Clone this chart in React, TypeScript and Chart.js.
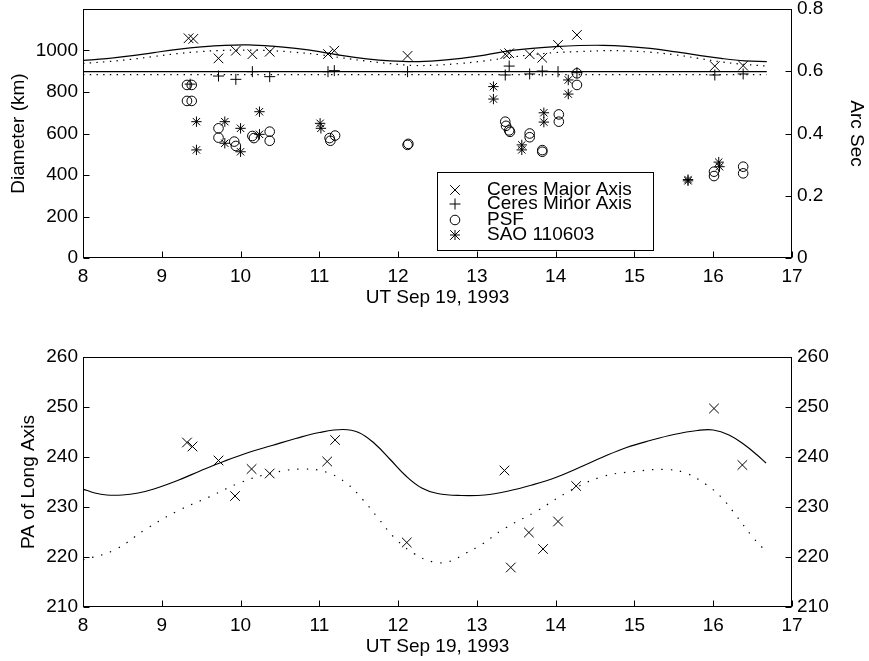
import React, { useEffect, useRef } from 'react';
import { Chart, registerables } from 'chart.js';

Chart.register(...registerables);

// ---------- tick labels ----------
const X_TICKS = [8, 9, 10, 11, 12, 13, 14, 15, 16, 17];
const KM_TICKS = [0, 200, 400, 600, 800, 1000];
const ARCSEC_TICKS = [0, 0.2, 0.4, 0.6, 0.8];
const PA_TICKS = [210, 220, 230, 240, 250, 260];

// ---------- top panel: diameters (km) ----------
const MAJOR_T = [9.34, 9.40, 9.72, 9.94, 10.15, 10.37, 11.11, 11.19, 12.12, 13.36, 13.41, 13.67, 13.83, 14.03, 14.27, 16.02, 16.38];
const MAJOR_KM = [1059, 1056, 962, 999, 982, 994, 983, 999, 974, 982, 987, 982, 965, 1027, 1075, 925, 927];

const MINOR_T = [9.36, 9.72, 9.94, 10.15, 10.37, 11.11, 11.19, 12.12, 13.36, 13.41, 13.67, 13.83, 14.03, 14.27, 16.02, 16.38];
const MINOR_KM = [838, 877, 861, 898, 874, 898, 903, 898, 882, 925, 887, 901, 898, 893, 882, 887];

const PSF_T = [9.32, 9.38, 9.32, 9.38, 9.72, 9.72, 9.92, 9.94, 10.15, 10.17, 10.37, 10.37, 11.13, 11.20, 11.14, 12.12, 12.13, 13.36, 13.37, 13.41, 13.42, 13.67, 13.67, 13.83, 13.83, 14.04, 14.04, 14.27, 14.27, 16.01, 16.01, 16.38, 16.38];
const PSF_KM = [834, 834, 757, 757, 625, 580, 561, 540, 588, 578, 609, 565, 578, 590, 565, 545, 550, 657, 637, 615, 608, 600, 582, 520, 512, 692, 657, 890, 834, 416, 395, 440, 408];

const SAO_T = [9.44, 9.44, 9.80, 9.80, 10.00, 10.00, 10.24, 10.24, 11.01, 11.02, 13.21, 13.21, 13.57, 13.57, 13.85, 13.85, 14.16, 14.16, 15.68, 15.68, 16.07, 16.08];
const SAO_KM = [657, 521, 657, 553, 625, 512, 705, 596, 649, 625, 826, 766, 545, 521, 700, 655, 858, 790, 378, 372, 462, 440];

const MODEL_T = [8.0, 8.3, 8.6, 8.9, 9.2, 9.5, 9.8, 10.1, 10.4, 10.7, 11.0, 11.3, 11.6, 11.9, 12.2, 12.5, 12.8, 13.1, 13.4, 13.7, 14.0, 14.3, 14.6, 14.9, 15.2, 15.5, 15.8, 16.1, 16.4, 16.68];
const MODEL_MAJOR_KM = [952, 961, 974, 990, 1005, 1017, 1025, 1027, 1021, 1010, 995, 975, 960, 950, 946, 951, 962, 978, 998, 1010, 1019, 1024, 1025, 1020, 1010, 995, 978, 962, 950, 946];
const MODEL_MAJOR2_KM = [938, 946, 957, 971, 985, 995, 1001, 1002, 999, 991, 980, 964, 949, 937, 928, 930, 938, 950, 966, 980, 990, 995, 999, 998, 992, 980, 963, 945, 933, 925];

const MODEL_MINOR_T = [8.0, 16.68];
const MODEL_MINOR_KM = [898, 898];
const MODEL_MINOR2_KM = [884, 884];

// ---------- bottom panel: position angle ----------
const PA_T = [9.32, 9.39, 9.72, 9.93, 10.14, 10.37, 11.10, 11.20, 12.11, 13.35, 13.43, 13.66, 13.84, 14.03, 14.26, 16.01, 16.37];
const PA_DEG = [242.9, 242.1, 239.3, 232.2, 237.6, 236.7, 239.1, 243.4, 222.9, 237.3, 217.9, 224.9, 221.6, 227.1, 234.2, 249.7, 238.4];

const PA_MODEL_T = [8.0, 8.15, 8.3, 8.5, 8.7, 8.9, 9.2, 9.5, 9.8, 10.1, 10.4, 10.7, 11.0, 11.3, 11.5, 11.7, 11.9, 12.1, 12.3, 12.5, 12.8, 13.1, 13.4, 13.7, 14.0, 14.3, 14.6, 14.9, 15.2, 15.5, 15.8, 16.0, 16.2, 16.4, 16.55, 16.67];
const PA_MODEL_DEG = [233.6, 232.8, 232.4, 232.4, 232.8, 233.6, 235.3, 237.3, 239.2, 240.9, 242.3, 243.7, 244.9, 245.5, 244.9, 242.7, 239.5, 236.2, 233.8, 232.7, 232.3, 232.4, 233.2, 234.4, 235.9, 237.9, 240.0, 241.9, 243.3, 244.5, 245.3, 245.4, 244.4, 242.4, 240.5, 238.8];

const PA_MODEL2_T = [8.0, 8.4, 8.8, 9.2, 9.6, 10.0, 10.4, 10.8, 11.1, 11.35, 11.55, 11.75, 11.95, 12.2, 12.45, 12.65, 12.85, 13.05, 13.35, 13.75, 14.2, 14.6, 15.0, 15.4, 15.65, 15.9, 16.1, 16.3, 16.5, 16.67];
const PA_MODEL2_DEG = [219.4, 221.4, 225.6, 229.2, 232.0, 234.9, 236.8, 237.6, 236.9, 234.7, 231.5, 227.7, 223.9, 220.7, 219.0, 219.1, 220.7, 222.4, 225.7, 229.1, 233.4, 236.1, 237.1, 237.5, 236.8, 234.6, 232.0, 228.1, 224.0, 221.1];

// ---------- legend ----------
const LEGEND_LABELS = ['Ceres Major Axis', 'Ceres Minor Axis', 'PSF', 'SAO 110603'];
const LEGEND_SYMBOLS = ['crossRot', 'cross', 'circle', 'star'];

const FONT_FAMILY = '"Liberation Sans", Arial, Helvetica, sans-serif';
const FONT = { family: FONT_FAMILY, size: 19 };
const BLACK = '#000';

const zip = (xs: number[], ys: number[]) => xs.map((x, i) => ({ x, y: ys[i] }));
const fmt = (v: number) => String(Math.round(v * 1000) / 1000);

function drawSymbol(ctx: CanvasRenderingContext2D, style: string, x: number, y: number) {
  ctx.beginPath();
  if (style === 'crossRot' || style === 'star') {
    const d = 4.8;
    ctx.moveTo(x - d, y - d); ctx.lineTo(x + d, y + d);
    ctx.moveTo(x - d, y + d); ctx.lineTo(x + d, y - d);
  }
  if (style === 'cross' || style === 'star') {
    const d = style === 'star' ? 5 : 5.5;
    ctx.moveTo(x - d, y); ctx.lineTo(x + d, y);
    ctx.moveTo(x, y - d); ctx.lineTo(x, y + d);
  }
  if (style === 'circle') {
    ctx.arc(x, y, 4.8, 0, Math.PI * 2);
  }
  ctx.stroke();
}

const framePlugin = {
  id: 'frameTicks',
  afterDraw(chart: any) {
    const { ctx, chartArea } = chart;
    const left = Math.round(chartArea.left) + 0.5;
    const right = Math.round(chartArea.right) - 0.5;
    const top = Math.round(chartArea.top) + 0.5;
    const bottom = Math.round(chartArea.bottom) - 0.5;
    ctx.save();
    ctx.strokeStyle = BLACK;
    ctx.lineWidth = 1;
    ctx.strokeRect(left, top, right - left, bottom - top);
    const TL = 6;
    Object.values(chart.scales).forEach((scale: any) => {
      scale.ticks.forEach((t: any) => {
        const p = Math.round(scale.getPixelForValue(t.value)) + 0.5;
        ctx.beginPath();
        if (scale.position === 'bottom') {
          ctx.moveTo(p, bottom); ctx.lineTo(p, bottom - TL);
        } else if (scale.position === 'left') {
          ctx.moveTo(left, p); ctx.lineTo(left + TL, p);
        } else if (scale.position === 'right') {
          ctx.moveTo(right, p); ctx.lineTo(right - TL, p);
        }
        ctx.stroke();
      });
    });
    ctx.restore();
  },
};

const legendPlugin = {
  id: 'boxLegend',
  afterDraw(chart: any) {
    const { ctx } = chart;
    ctx.save();
    ctx.fillStyle = '#fff';
    ctx.strokeStyle = BLACK;
    ctx.lineWidth = 1;
    ctx.fillRect(437.5, 172.5, 216, 78);
    ctx.strokeRect(437.5, 172.5, 216, 78);
    const rows = [190, 204, 220, 235];
    ctx.font = `19px ${FONT_FAMILY}`;
    ctx.textBaseline = 'middle';
    ctx.textAlign = 'left';
    LEGEND_LABELS.forEach((label, i) => {
      ctx.fillStyle = BLACK;
      drawSymbol(ctx, LEGEND_SYMBOLS[i], 455, rows[i]);
      ctx.fillText(label, 487, rows[i]);
    });
    ctx.restore();
  },
};

function fixedTicks(values: number[]) {
  return (scale: any) => {
    scale.ticks = values.map((v) => ({ value: v }));
  };
}

function axis(opts: any) {
  const { position, min, max, ticks, title, titlePad, size, tickPad } = opts;
  const horizontal = position === 'bottom';
  return {
    type: 'linear',
    position,
    min,
    max,
    display: true,
    afterBuildTicks: fixedTicks(ticks),
    afterFit: (s: any) => {
      if (horizontal) {
        s.height = size;
        s.paddingLeft = 0;
        s.paddingRight = 0;
      } else {
        s.width = size;
        s.paddingTop = 0;
        s.paddingBottom = 0;
      }
    },
    ticks: {
      color: BLACK,
      font: FONT,
      padding: tickPad,
      maxRotation: 0,
      autoSkip: false,
      callback: (v: number) => fmt(v),
    },
    grid: { drawOnChartArea: false, drawTicks: false },
    border: { display: false },
    title: title
      ? {
          display: true,
          text: title,
          color: BLACK,
          font: FONT,
          padding: horizontal ? { top: 0, bottom: titlePad } : { top: titlePad, bottom: 0 },
        }
      : { display: false },
  };
}

const lineDs = (xs: number[], ys: number[], dash: number[] | null, width = 1.2) => ({
  type: 'line',
  data: zip(xs, ys),
  borderColor: BLACK,
  borderWidth: width,
  borderDash: dash || [],
  pointRadius: 0,
  fill: false,
  showLine: true,
  tension: 0.4,
  yAxisID: 'y',
});

const markerDs = (label: string, xs: number[], ys: number[], style: string, radius: number) => ({
  type: 'scatter',
  label,
  data: zip(xs, ys),
  pointStyle: style,
  pointRadius: radius,
  pointBorderWidth: 1,
  borderColor: BLACK,
  backgroundColor: 'rgba(0,0,0,0)',
  showLine: false,
  yAxisID: 'y',
});

function topConfig(): any {
  return {
    type: 'scatter',
    data: {
      datasets: [
        lineDs(MODEL_T, MODEL_MAJOR_KM, null),
        lineDs(MODEL_T, MODEL_MAJOR2_KM, [1.4, 5.3]),
        lineDs(MODEL_MINOR_T, MODEL_MINOR_KM, null),
        lineDs(MODEL_MINOR_T, MODEL_MINOR2_KM, [1.4, 5.3]),
        markerDs('Ceres Major Axis', MAJOR_T, MAJOR_KM, 'crossRot', 6.8),
        markerDs('Ceres Minor Axis', MINOR_T, MINOR_KM, 'cross', 5.5),
        markerDs('PSF', PSF_T, PSF_KM, 'circle', 4.8),
        markerDs('SAO 110603', SAO_T, SAO_KM, 'star', 5.2),
      ],
    },
    options: {
      animation: false,
      responsive: false,
      events: [],
      layout: { padding: { top: 9, left: 0, right: 0, bottom: 0 } },
      plugins: { legend: { display: false }, tooltip: { enabled: false } },
      scales: {
        x: axis({ position: 'bottom', min: 8, max: 17, ticks: X_TICKS, title: 'UT Sep 19, 1993', titlePad: 20.6, size: 72, tickPad: 7.6 }),
        y: axis({ position: 'left', min: 0, max: 1200, ticks: KM_TICKS, title: 'Diameter (km)', titlePad: 7.6, size: 83, tickPad: 5 }),
        y1: axis({ position: 'right', min: 0, max: 0.8, ticks: ARCSEC_TICKS, title: 'Arc Sec', titlePad: 1.6, size: 77, tickPad: 5 }),
      },
    },
    plugins: [framePlugin, legendPlugin],
  };
}

function bottomConfig(): any {
  return {
    type: 'scatter',
    data: {
      datasets: [
        lineDs(PA_MODEL_T, PA_MODEL_DEG, null),
        lineDs(PA_MODEL2_T, PA_MODEL2_DEG, [1.4, 8]),
        markerDs('PA', PA_T, PA_DEG, 'crossRot', 6.8),
      ],
    },
    options: {
      animation: false,
      responsive: false,
      events: [],
      layout: { padding: { top: 27, left: 0, right: 0, bottom: 0 } },
      plugins: { legend: { display: false }, tooltip: { enabled: false } },
      scales: {
        x: axis({ position: 'bottom', min: 8, max: 17, ticks: X_TICKS, title: 'UT Sep 19, 1993', titlePad: 2.6, size: 54, tickPad: 7.6 }),
        y: axis({ position: 'left', min: 210, max: 260, ticks: PA_TICKS, title: 'PA of Long Axis', titlePad: 17.6, size: 83, tickPad: 5 }),
        y1: axis({ position: 'right', min: 210, max: 260, ticks: PA_TICKS, title: null, titlePad: 0, size: 77, tickPad: 5 }),
      },
    },
    plugins: [framePlugin],
  };
}

export default function App() {
  const topRef = useRef<HTMLCanvasElement>(null);
  const bottomRef = useRef<HTMLCanvasElement>(null);

  useEffect(() => {
    const c1 = new Chart(topRef.current as HTMLCanvasElement, topConfig());
    const c2 = new Chart(bottomRef.current as HTMLCanvasElement, bottomConfig());
    return () => {
      c1.destroy();
      c2.destroy();
    };
  }, []);

  return (
    <div style={{ position: 'absolute', left: 0, top: 0, width: 869, height: 661, background: '#fff' }}>
      <canvas ref={topRef} width={869} height={330} style={{ display: 'block', position: 'absolute', left: 0, top: 0 }} />
      <canvas ref={bottomRef} width={869} height={331} style={{ display: 'block', position: 'absolute', left: 0, top: 330 }} />
    </div>
  );
}
